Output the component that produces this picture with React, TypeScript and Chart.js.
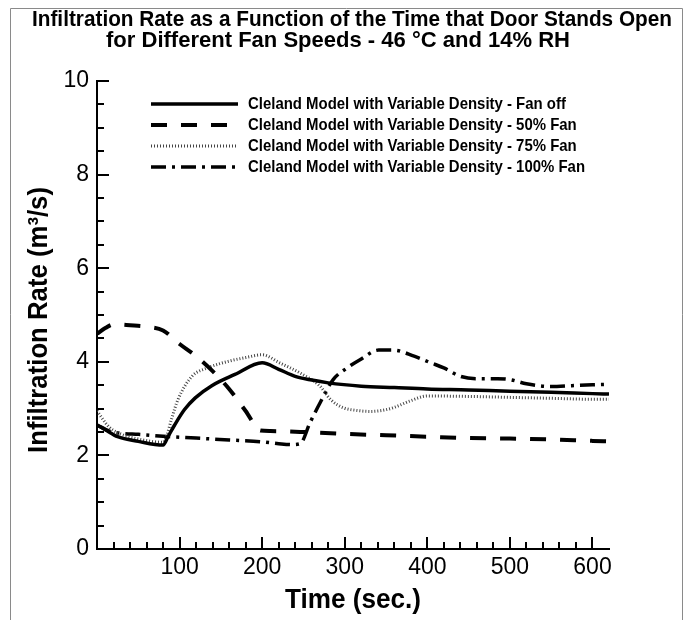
import { useEffect, useRef } from "react";
import { Chart, registerables } from "chart.js";

Chart.register(...registerables);

// ---------- text ----------
const titleLine1 = "Infiltration Rate as a Function of the Time that Door Stands Open";
const titleLine2 = "for Different Fan Speeds - 46 °C and 14% RH";
const xAxisTitle = "Time (sec.)";
const yAxisTitle = "Infiltration Rate (m³/s)";
const seriesLabels = [
  "Cleland Model with Variable Density - Fan off",
  "Cleland Model with Variable Density - 50% Fan",
  "Cleland Model with Variable Density - 75% Fan",
  "Cleland Model with Variable Density - 100% Fan",
];

// ---------- axes ----------
const xMin = 0;
const xMax = 620;
const xMajorTicks = [100, 200, 300, 400, 500, 600];
const yMin = 0;
const yMax = 10;
const yMajorStep = 2;

// ---------- data (time in s, rate in m3/s) ----------
const tFanOff = [0, 10, 25, 50, 80, 86, 94, 106, 119, 139, 167, 200, 220, 240, 260, 280, 320, 360, 400, 450, 500, 550, 600, 620];
const rFanOff = [2.65, 2.55, 2.4, 2.3, 2.22, 2.4, 2.65, 2.98, 3.23, 3.49, 3.73, 3.98, 3.84, 3.69, 3.61, 3.55, 3.48, 3.45, 3.42, 3.4, 3.37, 3.35, 3.32, 3.31];

const tFan50 = [0, 10, 20, 40, 60, 80, 100, 120, 140, 160, 180, 198, 210, 250, 300, 350, 400, 450, 500, 550, 600, 620];
const rFan50 = [4.6, 4.72, 4.8, 4.78, 4.75, 4.67, 4.38, 4.12, 3.8, 3.42, 2.95, 2.53, 2.52, 2.5, 2.46, 2.43, 2.4, 2.37, 2.36, 2.34, 2.31, 2.3];

const tFan75 = [0, 15, 30, 50, 80, 85, 90, 98, 115, 134, 159, 180, 200, 222, 246, 270, 283, 298, 315, 331, 345, 359, 380, 400, 450, 500, 550, 600, 620];
const rFan75 = [2.95, 2.6, 2.45, 2.35, 2.28, 2.45, 2.76, 3.19, 3.69, 3.87, 4.01, 4.09, 4.15, 3.97, 3.76, 3.48, 3.19, 3.02, 2.96, 2.94, 2.96, 3.02, 3.17, 3.27, 3.26, 3.24, 3.22, 3.2, 3.2];

const tFan100 = [0, 15, 30, 50, 80, 120, 160, 200, 220, 235, 246, 258, 270, 286, 303, 319, 341, 359, 384, 404, 420, 440, 460, 485, 500, 520, 550, 575, 600, 620];
const rFan100 = [2.65, 2.52, 2.47, 2.45, 2.41, 2.37, 2.33, 2.29, 2.25, 2.23, 2.25, 2.7, 3.12, 3.62, 3.87, 4.05, 4.25, 4.25, 4.12, 3.98, 3.87, 3.69, 3.64, 3.64, 3.62, 3.53, 3.47, 3.49, 3.51, 3.52];

const FONT = '"Liberation Sans", Arial, Helvetica, sans-serif';

const lineStyles = [
  { dash: [] as number[], width: 3.5, color: "#000" },
  { dash: [16, 14], width: 4, color: "#000" },
  { dash: [1, 2], width: 3, color: "#444" },
  { dash: [15, 6, 3, 6], width: 3.5, color: "#000" },
];

const toPoints = (t: number[], r: number[]) => t.map((x, i) => ({ x, y: r[i] }));

// draw text squeezed horizontally to a target width (mimics a condensed face)
function drawFitted(
  ctx: CanvasRenderingContext2D,
  text: string,
  x: number,
  y: number,
  font: string,
  sx: number,
  align: CanvasTextAlign,
  rotate = 0
) {
  ctx.save();
  ctx.font = font;
  ctx.textAlign = align;
  ctx.textBaseline = "middle";
  ctx.translate(x, y);
  if (rotate) ctx.rotate(rotate);
  ctx.scale(sx, 1);
  ctx.fillText(text, 0, 0);
  ctx.restore();
}

function scaleFor(ctx: CanvasRenderingContext2D, text: string, font: string, width: number) {
  ctx.save();
  ctx.font = font;
  const w = ctx.measureText(text).width;
  ctx.restore();
  return width / w;
}

const decorPlugin = {
  id: "decor",
  afterDraw(chart: any) {
    const ctx: CanvasRenderingContext2D = chart.ctx;
    const xs = chart.scales.x;
    const ys = chart.scales.y;
    const area = chart.chartArea;
    ctx.save();

    // frame
    ctx.strokeStyle = "#8a8a8a";
    ctx.lineWidth = 1;
    ctx.beginPath();
    ctx.moveTo(10.5, 700);
    ctx.lineTo(10.5, 8.5);
    ctx.lineTo(682.5, 8.5);
    ctx.lineTo(682.5, 700);
    ctx.stroke();

    // inward ticks
    ctx.strokeStyle = "#000";
    ctx.lineWidth = 2;
    ctx.beginPath();
    for (let v = 20; v < xMax; v += 20) {
      const px = Math.round(xs.getPixelForValue(v));
      const len = v % 100 === 0 ? 12 : 7;
      ctx.moveTo(px, area.bottom);
      ctx.lineTo(px, area.bottom - len);
    }
    for (let v = 0.5; v <= yMax + 1e-9; v += 0.5) {
      const py = Math.round(ys.getPixelForValue(v));
      const len = Math.abs(v % yMajorStep) < 1e-9 ? 12 : 7;
      ctx.moveTo(area.left, py);
      ctx.lineTo(area.left + len, py);
    }
    ctx.stroke();

    ctx.fillStyle = "#000";

    // chart title
    const tFont = `bold 22px ${FONT}`;
    drawFitted(ctx, titleLine1, 352, 20, tFont, scaleFor(ctx, titleLine1, tFont, 640), "center");
    drawFitted(ctx, titleLine2, 338, 41, tFont, scaleFor(ctx, titleLine2, tFont, 464), "center");

    // axis titles
    const aFont = `bold 27px ${FONT}`;
    drawFitted(ctx, xAxisTitle, 353, 601, aFont, scaleFor(ctx, xAxisTitle, aFont, 136), "center");
    drawFitted(ctx, yAxisTitle, 40, 320, aFont, scaleFor(ctx, yAxisTitle, aFont, 266), "center", -Math.PI / 2);

    // legend
    const rows = [104, 125, 146, 167];
    const lFont = `bold 17px ${FONT}`;
    const lsx = scaleFor(ctx, seriesLabels[3], lFont, 337);
    rows.forEach((y, i) => {
      const st = lineStyles[i];
      ctx.save();
      ctx.strokeStyle = st.color;
      ctx.lineWidth = st.width;
      ctx.setLineDash(st.dash);
      ctx.beginPath();
      ctx.moveTo(151, y);
      ctx.lineTo(238, y);
      ctx.stroke();
      ctx.restore();
      drawFitted(ctx, seriesLabels[i], 248, y, lFont, lsx, "left");
    });
    ctx.restore();
  },
};

export default function App() {
  const ref = useRef<HTMLCanvasElement | null>(null);
  useEffect(() => {
    if (!ref.current) return;
    const series = [
      toPoints(tFanOff, rFanOff),
      toPoints(tFan50, rFan50),
      toPoints(tFan75, rFan75),
      toPoints(tFan100, rFan100),
    ];
    const chart = new Chart(ref.current, {
      type: "line",
      data: {
        datasets: series.map((d, i) => ({
          label: seriesLabels[i],
          data: d,
          borderColor: lineStyles[i].color,
          borderWidth: lineStyles[i].width,
          borderDash: lineStyles[i].dash,
          pointRadius: 0,
          fill: false,
          cubicInterpolationMode: "monotone" as const,
        })),
      },
      options: {
        animation: false,
        responsive: false,
        events: [],
        layout: { padding: { top: 81, right: 82, left: 0, bottom: 0 } },
        plugins: {
          legend: { display: false },
          title: { display: false },
          tooltip: { enabled: false },
        },
        scales: {
          x: {
            type: "linear",
            min: xMin,
            max: xMax,
            grid: { display: false, drawTicks: false, tickLength: 0 },
            border: { display: true, color: "#000", width: 2 },
            afterFit: (s: any) => {
              s.height = 71;
            },
            afterBuildTicks: (s: any) => {
              s.ticks = xMajorTicks.map((v) => ({ value: v }));
            },
            ticks: {
              color: "#000",
              font: { family: FONT, size: 23 },
              padding: 5,
              maxRotation: 0,
              autoSkip: false,
            },
          },
          y: {
            type: "linear",
            min: yMin,
            max: yMax,
            grid: { display: false, drawTicks: false, tickLength: 0 },
            border: { display: true, color: "#000", width: 2 },
            afterFit: (s: any) => {
              s.width = 97;
            },
            ticks: {
              stepSize: yMajorStep,
              color: "#000",
              font: { family: FONT, size: 23 },
              padding: 8,
            },
          },
        },
      },
      plugins: [decorPlugin],
    });
    return () => chart.destroy();
  }, []);
  return (
    <div style={{ position: "fixed", left: 0, top: 0, width: 691, height: 620, background: "#fff" }}>
      <canvas ref={ref} width={691} height={620} style={{ width: 691, height: 620, display: "block" }} />
    </div>
  );
}
